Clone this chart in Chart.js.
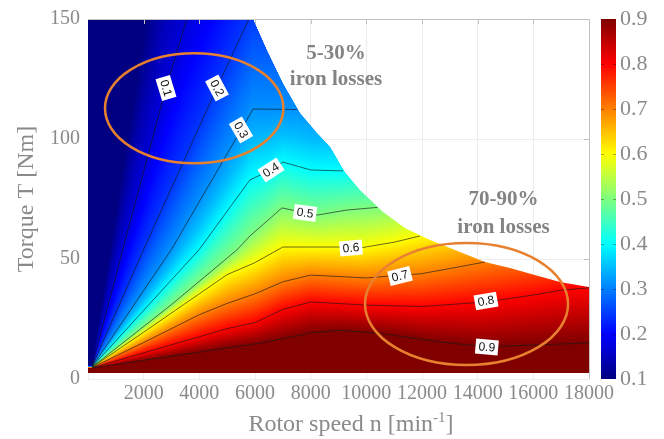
<!DOCTYPE html>
<html>
<head>
<meta charset="utf-8">
<script src="https://cdn.jsdelivr.net/npm/chart.js@4.4.1/dist/chart.umd.min.js"></script>
<style>
  html, body { margin: 0; padding: 0; background: #ffffff; }
  #wrap { width: 664px; height: 439px; }
</style>
</head>
<body>
<div id="wrap"><canvas id="map" width="664" height="439"></canvas></div>
<script>
// Axis ticks
const speedTicks = [0, 2000, 4000, 6000, 8000, 10000, 12000, 14000, 16000, 18000];
const torqueTicks = [0, 50, 100, 150];
const shareTicks = [0.1, 0.2, 0.3, 0.4, 0.5, 0.6, 0.7, 0.8, 0.9];

// Upper torque limit of the operating range (speed in min^-1, torque in Nm)
const limitSpeed  = [0, 5930, 6430, 7000, 7620, 8230, 8700, 9230, 9770, 10600, 11390, 12290, 13370, 14260, 15160, 16060, 16960, 18000];
const limitTorque = [150, 150, 137, 123.3, 110.8, 102.5, 96.7, 86.25, 78.75, 69.6, 62.9, 57.9, 52.9, 48.75, 46.25, 43.3, 40.4, 38.3];
const minTorque = 2.5;

// Iron-loss share contour lines
const levels = [0.1, 0.2, 0.3, 0.4, 0.5, 0.6, 0.7, 0.8, 0.9];
const c01Speed  = [150, 1250, 2800, 3550];
const c01Torque = [5.4, 54, 121.3, 150];
const c02Speed  = [150, 2000, 4630, 5780];
const c02Torque = [5.3, 54, 121.3, 150];
const c03Speed  = [150, 3000, 5500, 5930, 7520];
const c03Torque = [5.2, 54, 103.8, 112.5, 112.3];
const c04Speed  = [150, 4000, 5820, 6580, 7000, 8000, 9160];
const c04Torque = [5.1, 54, 83, 87.1, 90.4, 87.1, 86.7];
const c05Speed  = [150, 3000, 5350, 5820, 6970, 7800, 8230, 9300, 10400];
const c05Torque = [5.0, 31, 53.8, 59.6, 71.3, 69.2, 68.3, 70.4, 71.5];
const c06Speed  = [150, 2000, 4000, 5000, 6000, 7000, 8000, 9160, 9770, 11000, 11930];
const c06Torque = [4.9, 19.5, 35.5, 43.5, 48.5, 55, 55, 55, 54.6, 57, 59.6];
const c07Speed  = [150, 2000, 4000, 5000, 6000, 7000, 8000, 10000, 11280, 11930, 13000, 14260];
const c07Torque = [4.8, 15.2, 26.8, 31.5, 35.5, 40.5, 43.3, 42.1, 43.3, 43.8, 46, 48.75];
const c08Speed  = [150, 2000, 4000, 5000, 6000, 7000, 8000, 10000, 12000, 14300, 16000, 17000, 18000];
const c08Torque = [4.7, 10.9, 17.6, 21, 23.5, 29, 32.1, 30.8, 30.2, 32.1, 35, 37, 38];
const c09Speed  = [150, 2000, 4000, 5000, 6000, 7000, 8000, 9000, 10500, 12600, 14300, 16100, 18000];
const c09Torque = [4.6, 7.8, 11.2, 13, 14.6, 16.8, 19.2, 20.3, 19, 15.5, 13.4, 14.2, 15];

// Inline contour labels: position (speed, torque) and text angle in degrees
const labelText   = ['0.1', '0.2', '0.3', '0.4', '0.5', '0.6', '0.7', '0.8', '0.9'];
const labelSpeed  = [2802, 4635, 5497, 6575, 7797, 9449, 11210, 14300, 14330];
const labelTorque = [121.25, 121.25, 103.75, 87.1, 69.2, 54.6, 42.9, 32.5, 13.3];
const labelAngle  = [73, 62, 60, -33, 8, -5, -14, -10, 5];

// Highlighted regions and their notes
const ringSpeed   = [3815, 13600];
const ringTorque  = [112.8, 31.25];
const ringSpeedR  = [3204, 3647];
const ringTorqueR = [22.9, 25.4];
const noteLines   = [['5-30%', 'iron losses'], ['70-90%', 'iron losses']];
const noteSpeed   = [8910, 14930];
const noteTorque  = [[135.8, 124.6], [74.6, 63]];

const contours = [
  { level: levels[0], speed: c01Speed, torque: c01Torque },
  { level: levels[1], speed: c02Speed, torque: c02Torque },
  { level: levels[2], speed: c03Speed, torque: c03Torque },
  { level: levels[3], speed: c04Speed, torque: c04Torque },
  { level: levels[4], speed: c05Speed, torque: c05Torque },
  { level: levels[5], speed: c06Speed, torque: c06Torque },
  { level: levels[6], speed: c07Speed, torque: c07Torque },
  { level: levels[7], speed: c08Speed, torque: c08Torque },
  { level: levels[8], speed: c09Speed, torque: c09Torque }
];

const GRAY = '#8a8a8a';
const SERIF = '"Liberation Serif", "Times New Roman", serif';
const SANS = '"Liberation Sans", Arial, sans-serif';

// Piecewise-linear lookup; null past the end of a contour
function lineAt(xs, ys, v) {
  if (v > xs[xs.length - 1]) return null;
  if (v <= xs[0]) return ys[0];
  for (let i = 1; i < xs.length; i++) {
    if (v <= xs[i]) {
      const t = (v - xs[i - 1]) / (xs[i] - xs[i - 1]);
      return ys[i - 1] + t * (ys[i] - ys[i - 1]);
    }
  }
  return ys[ys.length - 1];
}
function limitAt(v) {
  const t = lineAt(limitSpeed, limitTorque, v);
  return t === null ? limitTorque[limitTorque.length - 1] : t;
}

// Once a contour leaves the operating range it is carried on above the
// limit curve, parallel to the next higher level, so the shading stays smooth.
const carryOffset = contours.map((c, k) => {
  if (k === contours.length - 1) return 0;
  const endN = c.speed[c.speed.length - 1];
  const endT = c.torque[c.torque.length - 1];
  const next = lineAt(contours[k + 1].speed, contours[k + 1].torque, endN);
  return next === null ? 0 : endT - next;
});
function contourTorques(n) {
  const ts = new Array(contours.length);
  for (let k = contours.length - 1; k >= 0; k--) {
    const t = lineAt(contours[k].speed, contours[k].torque, n);
    if (t !== null) ts[k] = t;
    else ts[k] = (k < contours.length - 1 ? ts[k + 1] : 0) + carryOffset[k];
  }
  return ts;
}

// Share value between the neighbouring contour lines at one speed
function shareAt(T, ts) {
  const m = ts.length;
  let k = 0;
  while (k < m && ts[k] > T) k++;
  if (k === 0) {
    const gap = ts[0] - ts[1];
    return levels[0] - 0.1 * (T - ts[0]) / Math.max(2.5 * gap, 1);
  }
  if (k === m) {
    const gap = ts[m - 2] - ts[m - 1];
    return levels[m - 1] + 0.1 * (ts[m - 1] - T) / Math.max(gap, 1);
  }
  return levels[k - 1] + (levels[k] - levels[k - 1]) * (ts[k - 1] - T) / Math.max(ts[k - 1] - ts[k], 1e-6);
}

// Jet colour map over the colour bar range 0.1 ... 0.9
function jet(v) {
  const t = Math.min(1, Math.max(0, (v - 0.1) / 0.8));
  const f = c => Math.round(255 * Math.min(1, Math.max(0, c)));
  return [f(1.5 - Math.abs(4 * t - 3)), f(1.5 - Math.abs(4 * t - 2)), f(1.5 - Math.abs(4 * t - 1))];
}
// Field shading: the low-share end is lifted slightly towards blue
function fieldColour(v) {
  const lift = 0.07 * Math.min(1, Math.max(0, (0.35 - v) / 0.25));
  return jet(v + lift);
}

const fieldPlugin = {
  id: 'lossField',
  beforeDatasetsDraw(chart) {
    const { ctx, chartArea: a, scales: { x, y } } = chart;
    const w = Math.round(a.right - a.left), h = Math.round(a.bottom - a.top);
    const off = document.createElement('canvas');
    off.width = w; off.height = h;
    const octx = off.getContext('2d');
    const img = octx.createImageData(w, h);
    const d = img.data;
    const tPerPx = (y.max - y.min) / (a.bottom - a.top);
    for (let i = 0; i < w; i++) {
      const n = x.getValueForPixel(a.left + i + 0.5);
      const tLim = limitAt(n);
      const ts = contourTorques(n);
      for (let j = 0; j < h; j++) {
        const T = y.getValueForPixel(a.top + j + 0.5);
        const up = Math.min(1, Math.max(0, (tLim - T) / tPerPx + 0.5));
        const lo = Math.min(1, Math.max(0, (T - minTorque) / tPerPx + 0.5));
        const alpha = up * lo;
        if (alpha <= 0) continue;
        const [r, g, b] = fieldColour(shareAt(T, ts));
        const k = (j * w + i) * 4;
        d[k] = r; d[k + 1] = g; d[k + 2] = b; d[k + 3] = Math.round(alpha * 255);
      }
    }
    octx.putImageData(img, 0, 0);
    ctx.drawImage(off, a.left, a.top);
  },
  afterDatasetsDraw(chart) {
    const { ctx, chartArea: a, scales: { x, y, cb } } = chart;
    ctx.save();

    // Box lines on top and right with inward ticks
    ctx.strokeStyle = '#c2c2c2';
    ctx.lineWidth = 1;
    ctx.beginPath();
    ctx.moveTo(a.left, a.top + 0.5); ctx.lineTo(a.right + 0.5, a.top + 0.5);
    ctx.lineTo(a.right + 0.5, a.bottom);
    speedTicks.forEach(v => {
      if (v === 0 || v === 18000) return;
      const px = Math.round(x.getPixelForValue(v)) + 0.5;
      ctx.moveTo(px, a.top); ctx.lineTo(px, a.top + 5);
    });
    torqueTicks.forEach(v => {
      if (v === 0 || v === 150) return;
      const py = Math.round(y.getPixelForValue(v)) + 0.5;
      ctx.moveTo(a.right, py); ctx.lineTo(a.right - 5, py);
    });
    ctx.stroke();

    // Contour labels
    ctx.font = '12px ' + SANS;
    ctx.textAlign = 'center';
    ctx.textBaseline = 'middle';
    labelText.forEach((txt, i) => {
      const px = x.getPixelForValue(labelSpeed[i]);
      const py = y.getPixelForValue(labelTorque[i]);
      const tw = ctx.measureText(txt).width;
      ctx.save();
      ctx.translate(px, py);
      ctx.rotate(labelAngle[i] * Math.PI / 180);
      ctx.fillStyle = '#ffffff';
      ctx.fillRect(-tw / 2 - 3, -7.5, tw + 6, 15);
      ctx.fillStyle = '#111111';
      ctx.fillText(txt, 0, 0.5);
      ctx.restore();
    });

    // Highlight rings
    ctx.strokeStyle = '#e8812f';
    ctx.lineWidth = 2.5;
    ringSpeed.forEach((s, i) => {
      const cx = x.getPixelForValue(s), cy = y.getPixelForValue(ringTorque[i]);
      const rx = Math.abs(x.getPixelForValue(s + ringSpeedR[i]) - cx);
      const ry = Math.abs(y.getPixelForValue(ringTorque[i] + ringTorqueR[i]) - cy);
      ctx.beginPath();
      ctx.ellipse(cx, cy, rx, ry, 0, 0, Math.PI * 2);
      ctx.stroke();
    });

    // Notes
    ctx.fillStyle = '#838383';
    ctx.font = 'bold 21px ' + SERIF;
    noteLines.forEach((lines, i) => {
      lines.forEach((txt, j) => {
        ctx.fillText(txt, x.getPixelForValue(noteSpeed[i]), y.getPixelForValue(noteTorque[i][j]));
      });
    });

    // Colour bar
    const top = cb.getPixelForValue(0.9), bot = cb.getPixelForValue(0.1);
    const bx = a.right + 12, bw = 15;
    for (let py = Math.floor(top); py < Math.ceil(bot); py++) {
      const v = cb.getValueForPixel(py + 0.5);
      const [r, g, b] = jet(v);
      ctx.fillStyle = `rgb(${r},${g},${b})`;
      ctx.fillRect(bx, py, bw, 1);
    }
    ctx.strokeStyle = 'rgba(0,0,0,0.35)';
    ctx.lineWidth = 1;
    ctx.beginPath();
    shareTicks.forEach(v => {
      if (v === 0.1 || v === 0.9) return;
      const py = Math.round(cb.getPixelForValue(v)) + 0.5;
      ctx.moveTo(bx, py); ctx.lineTo(bx + 3, py);
      ctx.moveTo(bx + bw, py); ctx.lineTo(bx + bw - 3, py);
    });
    ctx.stroke();

    // Axis titles
    ctx.fillStyle = GRAY;
    ctx.textBaseline = 'alphabetic';
    ctx.textAlign = 'left';
    const main = 'Rotor speed n [min', sup = '-1', tail = ']';
    ctx.font = '24px ' + SERIF;
    const w1 = ctx.measureText(main).width, w3 = ctx.measureText(tail).width;
    ctx.font = '15px ' + SERIF;
    const w2 = ctx.measureText(sup).width;
    let tx = 351 - (w1 + w2 + w3) / 2;
    const base = 431;
    ctx.font = '24px ' + SERIF;
    ctx.fillText(main, tx, base); tx += w1;
    ctx.font = '15px ' + SERIF;
    ctx.fillText(sup, tx, base - 9); tx += w2;
    ctx.font = '24px ' + SERIF;
    ctx.fillText(tail, tx, base);

    ctx.save();
    ctx.translate(27, (a.top + a.bottom) / 2);
    ctx.rotate(-Math.PI / 2);
    ctx.textAlign = 'center';
    ctx.textBaseline = 'middle';
    ctx.fillText('Torque T [Nm]', 0, 0);
    ctx.restore();

    ctx.restore();
  }
};

const tickFont = { family: SERIF, size: 20 };

new Chart(document.getElementById('map'), {
  type: 'scatter',
  data: {
    datasets: contours.map(c => ({
      label: c.level.toFixed(1),
      data: c.speed.map((s, i) => ({ x: s, y: c.torque[i] })),
      showLine: true,
      pointRadius: 0,
      borderColor: 'rgba(25,25,25,0.72)',
      borderWidth: 0.9,
      tension: 0,
      fill: false,
      xAxisID: 'x',
      yAxisID: 'y'
    }))
  },
  options: {
    responsive: false,
    animation: false,
    devicePixelRatio: 1,
    layout: { padding: { top: 19, left: 0, right: 0, bottom: 0 } },
    plugins: { legend: { display: false }, tooltip: { enabled: false } },
    scales: {
      x: {
        type: 'linear', position: 'bottom', min: 0, max: 18000,
        afterBuildTicks: s => { s.ticks = speedTicks.map(v => ({ value: v })); },
        ticks: { callback: v => (v === 0 ? '' : String(v)), font: tickFont, color: GRAY, padding: 3, maxRotation: 0, autoSkip: false },
        grid: { color: '#ececec', drawTicks: false },
        border: { display: false },
        afterFit: s => { s.height = 60; s.paddingLeft = 0; s.paddingRight = 0; }
      },
      y: {
        type: 'linear', position: 'left', min: 0, max: 150,
        afterBuildTicks: s => { s.ticks = torqueTicks.map(v => ({ value: v })); },
        ticks: { font: tickFont, color: GRAY, padding: 8, autoSkip: false },
        grid: { color: '#ececec', drawTicks: false },
        border: { display: false },
        afterFit: s => { s.width = 88; s.paddingTop = 0; s.paddingBottom = 0; }
      },
      cb: {
        type: 'linear', position: 'right', min: 0.1, max: 0.9,
        afterBuildTicks: s => { s.ticks = shareTicks.map(v => ({ value: v })); },
        ticks: { callback: v => Number(v).toFixed(1), font: { family: SERIF, size: 22 }, color: GRAY, padding: 31, autoSkip: false },
        grid: { display: false, drawTicks: false },
        border: { display: false },
        afterFit: s => { s.width = 75; s.paddingTop = 0; s.paddingBottom = 0; }
      }
    }
  },
  plugins: [fieldPlugin]
});
</script>
</body>
</html>
